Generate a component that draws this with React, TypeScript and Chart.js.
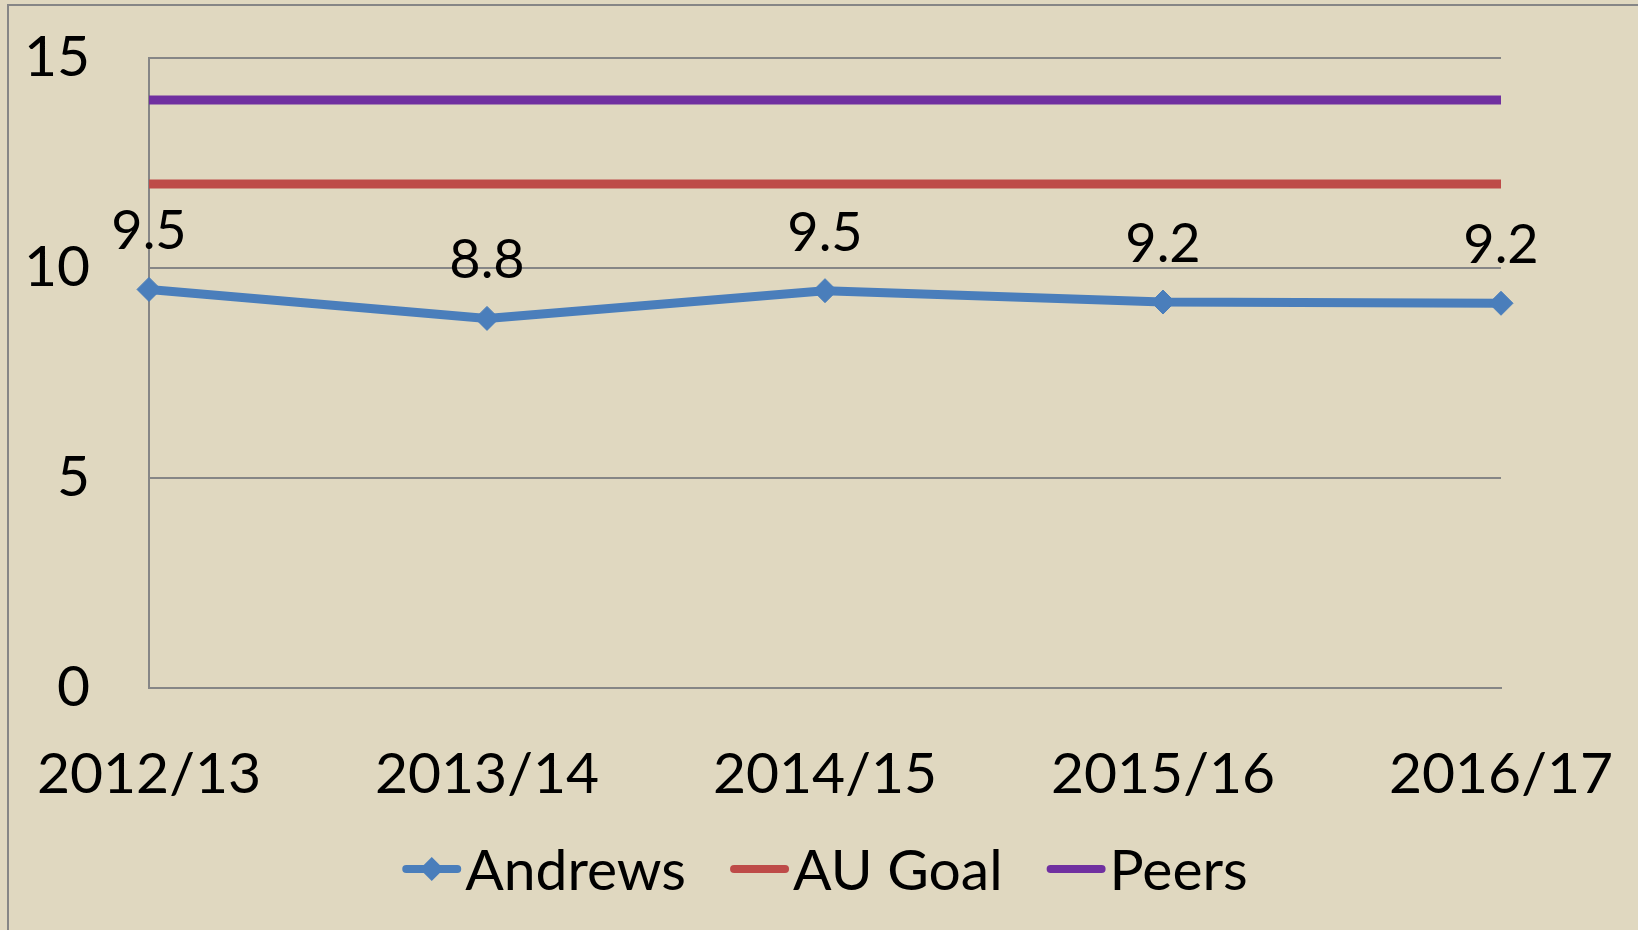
import React, { useEffect, useRef } from "react";
import { Chart, registerables } from "chart.js";

Chart.register(...registerables);

const categories = ["2012/13", "2013/14", "2014/15", "2015/16", "2016/17"];
const andrews = [9.49, 8.8, 9.46, 9.19, 9.16];
const auGoal = [12, 12, 12, 12, 12];
const peers = [14, 14, 14, 14, 14];
const seriesNames = ["Andrews", "AU Goal", "Peers"];
const seriesColors = ["#4A7EBB", "#BE4B48", "#7030A0"];

const FONT = "Lato, 'Open Sans', sans-serif";
const GRID = "#868686";
const BG = "#E0D8C0";

export default function App() {
  const ref = useRef<HTMLCanvasElement>(null);

  useEffect(() => {
    const canvas = ref.current;
    if (!canvas) return;

    const bgPlugin = {
      id: "bgPlugin",
      beforeDraw(chart: any) {
        const ctx = chart.ctx;
        ctx.save();
        ctx.fillStyle = BG;
        ctx.fillRect(0, 0, chart.width, chart.height);
        ctx.strokeStyle = GRID;
        ctx.lineWidth = 2;
        ctx.beginPath();
        ctx.moveTo(8, chart.height);
        ctx.lineTo(8, 5);
        ctx.lineTo(chart.width, 5);
        ctx.stroke();
        ctx.restore();
      },
    };

    const labelPlugin = {
      id: "labelPlugin",
      afterDatasetsDraw(chart: any) {
        const ctx = chart.ctx;
        const meta = chart.getDatasetMeta(0);
        const data = chart.data.datasets[0].data as number[];
        ctx.save();
        ctx.font = `54px ${FONT}`;
        ctx.fillStyle = "#000";
        ctx.textAlign = "center";
        ctx.textBaseline = "alphabetic";
        meta.data.forEach((pt: any, i: number) => {
          ctx.fillText(data[i].toFixed(1), pt.x, pt.y - 40);
        });
        ctx.restore();
      },
    };

    const legendPlugin = {
      id: "customLegend",
      afterDraw(chart: any) {
        const ctx = chart.ctx;
        const area = chart.chartArea;
        ctx.save();
        ctx.font = `57px ${FONT}`;
        const lineLen = 59;
        const gapText = 4;
        const gapItem = 44;
        const widths = chart.data.datasets.map((d: any) => ctx.measureText(d.label).width);
        const total =
          widths.reduce((a: number, b: number) => a + b, 0) +
          chart.data.datasets.length * (lineLen + gapText) +
          (chart.data.datasets.length - 1) * gapItem;
        let x = (area.left + area.right) / 2 - total / 2;
        const y = 872;
        chart.data.datasets.forEach((d: any, i: number) => {
          ctx.strokeStyle = d.borderColor;
          ctx.lineWidth = 8;
          ctx.lineCap = "round";
          ctx.beginPath();
          ctx.moveTo(x + 4, y - 3);
          ctx.lineTo(x + lineLen - 4, y - 3);
          ctx.stroke();
          if (d.pointRadius > 0) {
            const cx = x + lineLen / 2;
            const cy = y - 3;
            const r = 12;
            ctx.fillStyle = d.borderColor;
            ctx.beginPath();
            ctx.moveTo(cx - r, cy);
            ctx.lineTo(cx, cy - r);
            ctx.lineTo(cx + r, cy);
            ctx.lineTo(cx, cy + r);
            ctx.closePath();
            ctx.fill();
          }
          x += lineLen + gapText;
          ctx.fillStyle = "#000";
          ctx.textAlign = "left";
          ctx.textBaseline = "middle";
          ctx.fillText(d.label, x, y);
          x += widths[i] + gapItem;
        });
        ctx.restore();
      },
    };

    const chart = new Chart(canvas, {
      type: "line",
      data: {
        labels: categories,
        datasets: [
          {
            label: seriesNames[0],
            data: andrews,
            borderColor: seriesColors[0],
            backgroundColor: seriesColors[0],
            borderWidth: 9,
            pointStyle: "rectRot",
            pointRadius: 12,
            pointBorderWidth: 1,
            pointBackgroundColor: seriesColors[0],
            pointBorderColor: seriesColors[0],
            tension: 0,
            borderJoinStyle: "round",
          },
          {
            label: seriesNames[1],
            data: auGoal,
            borderColor: seriesColors[1],
            backgroundColor: seriesColors[1],
            borderWidth: 9,
            pointRadius: 0,
            borderCapStyle: "butt",
          },
          {
            label: seriesNames[2],
            data: peers,
            borderColor: seriesColors[2],
            backgroundColor: seriesColors[2],
            borderWidth: 9,
            pointRadius: 0,
            borderCapStyle: "butt",
          },
        ],
      },
      options: {
        responsive: false,
        devicePixelRatio: 1,
        animation: false,
        events: [],
        layout: { padding: { left: 0, top: 58, right: 137, bottom: 92 } },
        plugins: {
          legend: { display: false },
          tooltip: { enabled: false },
        },
        scales: {
          x: {
            type: "category",
            offset: false,
            grid: { display: false },
            border: { display: true, color: GRID, width: 2 },
            ticks: {
              color: "#000",
              font: { family: FONT, size: 57 },
              padding: 44,
              maxRotation: 0,
              autoSkip: false,
            },
            afterFit(s: any) {
              s.height = 150;
              s.paddingLeft = 0;
              s.paddingRight = 0;
            },
          },
          y: {
            min: 0,
            max: 15,
            ticks: {
              stepSize: 5,
              color: "#000",
              font: { family: FONT, size: 57 },
              padding: 59,
            },
            grid: { color: GRID, lineWidth: 2, drawTicks: false },
            border: { display: true, color: GRID, width: 2 },
            afterFit(s: any) {
              s.width = 149;
              s.paddingTop = 0;
              s.paddingBottom = 0;
            },
          },
        },
      },
      plugins: [bgPlugin, labelPlugin, legendPlugin],
    } as any);

    return () => chart.destroy();
  }, []);

  return (
    <div style={{ position: "fixed", left: 0, top: 0, width: 1638, height: 930, background: BG }}>
      <canvas ref={ref} width={1638} height={930} style={{ display: "block", width: 1638, height: 930 }} />
    </div>
  );
}
